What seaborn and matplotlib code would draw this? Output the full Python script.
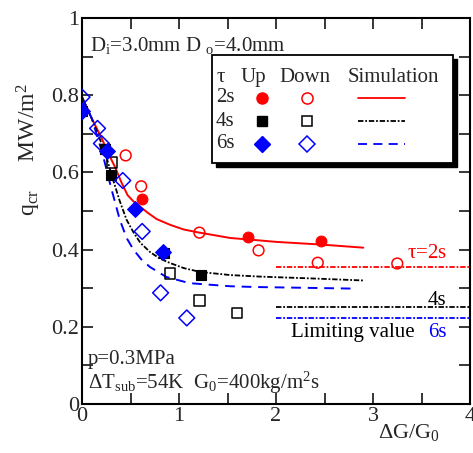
import numpy as np
import pandas as pd
import matplotlib
matplotlib.use("Agg")
import matplotlib.pyplot as plt
from matplotlib.patches import Rectangle
import seaborn as sns

# ---- measured data -------------------------------------------------------
# tau = 2 s
up2_x = [0.62, 1.71, 2.46]
up2_y = [0.530, 0.433, 0.421]
down2_x = [0.45, 0.61, 1.21, 1.82, 2.43, 3.25]
down2_y = [0.644, 0.564, 0.444, 0.398, 0.366, 0.364]
# tau = 4 s
up4_x = [0.00, 0.24, 0.30, 0.85, 1.23]
up4_y = [0.760, 0.660, 0.592, 0.392, 0.335]
down4_x = [0.31, 0.91, 1.21, 1.60]
down4_y = [0.626, 0.338, 0.268, 0.236]
# tau = 6 s
up6_x = [0.00, 0.26, 0.55, 0.83]
up6_y = [0.760, 0.655, 0.504, 0.395]
down6_x = [0.00, 0.16, 0.20, 0.42, 0.62, 0.81, 1.08]
down6_y = [0.795, 0.714, 0.675, 0.579, 0.447, 0.288, 0.223]

# ---- simulation curves ---------------------------------------------------
sim2_x = [0.00, 0.10, 0.20, 0.27, 0.34, 0.41, 0.47, 0.53, 0.58, 0.68, 0.77, 0.91, 1.05,
          1.21, 1.53, 1.73, 2.00, 2.47, 2.90]
sim2_y = [0.795, 0.740, 0.690, 0.650, 0.614, 0.572, 0.541, 0.525, 0.515, 0.495, 0.479, 0.464,
          0.452, 0.444, 0.430, 0.426, 0.420, 0.413, 0.405]
sim4_x = [0.00, 0.10, 0.24, 0.31, 0.39, 0.46, 0.53, 0.60, 0.70, 0.80, 0.91, 1.05, 1.22,
          1.53, 1.84, 2.40, 2.90]
sim4_y = [0.795, 0.740, 0.650, 0.589, 0.525, 0.477, 0.445, 0.418, 0.394, 0.377, 0.365, 0.352,
          0.342, 0.334, 0.330, 0.325, 0.320]
sim6_x = [0.00, 0.10, 0.21, 0.30, 0.39, 0.46, 0.53, 0.61, 0.70, 0.87, 1.11, 1.53, 1.80,
          2.30, 2.79]
sim6_y = [0.795, 0.740, 0.650, 0.560, 0.477, 0.430, 0.400, 0.375, 0.355, 0.329, 0.313, 0.305,
          0.303, 0.301, 0.299]

# ---- limiting values -----------------------------------------------------
lim_x = [2.0, 4.0]
lim2 = 0.356
lim4 = 0.252
lim6 = 0.223

x_ticks = [0, 1, 2, 3, 4]
y_ticks = [0, 0.2, 0.4, 0.6, 0.8, 1.0]
y_tick_labels = ["0", "0.2", "0.4", "0.6", "0.8", "1"]

RED, BLACK, BLUE = "#ff0000", "#000000", "#0000ff"

sns.set_style("ticks")
plt.rcParams["font.family"] = ["Liberation Serif", "DejaVu Serif"]
plt.rcParams["mathtext.fontset"] = "custom"
plt.rcParams["mathtext.rm"] = "Liberation Serif"
plt.rcParams["mathtext.it"] = "Liberation Serif"

fig = plt.figure(figsize=(4.73, 4.53), dpi=100)
ax = fig.add_axes([0.1734, 0.1082, 0.8203, 0.852])

fine_dd = (3, 1, 1, 1)

def curve(x, y, color, **kw):
    df = pd.DataFrame({"x": x, "y": y})
    sns.lineplot(data=df, x="x", y="y", sort=False, estimator=None,
                 color=color, ax=ax, **kw)

curve(sim2_x, sim2_y, RED, lw=1.4)
curve(sim4_x, sim4_y, BLACK, lw=1.3, linestyle=(0, fine_dd))
curve(sim6_x, sim6_y, BLUE, lw=1.4, linestyle=(0, (5, 3.5)))

curve(lim_x, [lim2, lim2], RED, lw=1.3, linestyle=(0, fine_dd))
curve(lim_x, [lim4, lim4], BLACK, lw=1.3, linestyle=(0, fine_dd))
curve(lim_x, [lim6, lim6], BLUE, lw=1.3, linestyle=(0, fine_dd))

def pts(x, y, color, marker, filled, s):
    if filled:
        sns.scatterplot(x=x, y=y, ax=ax, marker=marker, s=s, color=color,
                        edgecolor=color, linewidth=0.8, zorder=3)
    else:
        sns.scatterplot(x=x, y=y, ax=ax, marker=marker, s=s,
                        facecolors="none", edgecolors=color, linewidth=1.1, zorder=3)

pts(down4_x, down4_y, BLACK, "s", False, 55)
pts(up4_x, up4_y, BLACK, "s", True, 50)
pts(down2_x, down2_y, RED, "o", False, 60)
pts(up2_x, up2_y, RED, "o", True, 60)
pts(down6_x, down6_y, BLUE, "D", False, 65)
pts(up6_x, up6_y, BLUE, "D", True, 65)

ax.set_xlim(0, 4)
ax.set_ylim(0, 1)
ax.set_xticks(x_ticks)
ax.set_xticklabels([str(t) for t in x_ticks])
ax.set_yticks(y_ticks)
ax.set_yticklabels(y_tick_labels)
ax.set_xticks(np.arange(0, 4.01, 0.5), minor=True)
ax.set_yticks(np.arange(0, 1.001, 0.1), minor=True)
ax.tick_params(which="both", direction="in", top=True, right=True,
               width=1.1, color="black")
ax.tick_params(which="major", length=8, labelsize=16, pad=2)
ax.tick_params(which="minor", length=8)
for sp in ax.spines.values():
    sp.set_linewidth(1.5)
    sp.set_color("black")
    sp.set_visible(True)

ax.set_xlabel("")
ax.set_ylabel(r"q$_{\rm cr}$     MW/m$^2$", fontsize=17, y=0.66, labelpad=6)
fig.text(0.865, 0.045, r"$\Delta$G/G$_0$", fontsize=16, ha="center", va="center")

fs = 15
ax.text(0.08, 0.93, r"D$_{\rm i}$=3.0mm D $_{\rm o}$=4.0mm", fontsize=fs, va="center")
ax.text(0.06, 0.114, "p=0.3MPa", fontsize=fs, va="center")
ax.text(0.06, 0.054, r"$\Delta$T$_{\rm sub}$=54K  G$_0$=400kg/m$^2$s", fontsize=fs, va="center")
ax.text(3.76, 0.391, r"$\tau$=2s", fontsize=fs, color=RED, ha="right", va="center")
ax.text(3.76, 0.269, "4s", fontsize=fs, color=BLACK, ha="right", va="center")
ax.text(3.43, 0.184, "Limiting value", fontsize=fs, color=BLACK, ha="right", va="center")
ax.text(3.76, 0.184, "6s", fontsize=fs, color=BLUE, ha="right", va="center")

# table-style key
T = ax.transAxes
L, R, B, Tp = 0.335, 0.956, 0.624, 0.904
ax.add_patch(Rectangle((L + 0.011, B - 0.011), R - L, Tp - B, transform=T,
                       facecolor="black", edgecolor="black", zorder=5))
ax.add_patch(Rectangle((L, B), R - L, Tp - B, transform=T,
                       facecolor="white", edgecolor="black", lw=1.3, zorder=6))
hy = 0.845
ax.text(0.345, hy, r"$\tau$", transform=T, fontsize=fs, va="center", zorder=7)
ax.text(0.441, hy, "Up", transform=T, fontsize=fs, va="center", ha="center", zorder=7)
ax.text(0.575, hy, "Down", transform=T, fontsize=fs, va="center", ha="center", zorder=7)
ax.text(0.802, hy, "Simulation", transform=T, fontsize=fs, va="center", ha="center", zorder=7)
rows = [("2s", RED, "o", 8, "-", 0.793),
        ("4s", BLACK, "s", 7, (0, fine_dd), 0.733),
        ("6s", BLUE, "D", 8.5, (0, (5, 3.5)), 0.674)]
for lab, c, m, ms, ls, yy in rows:
    ax.text(0.345, yy, lab, transform=T, fontsize=fs, va="center", zorder=7)
    ax.plot([0.464], [yy], transform=T, marker=m, ms=ms, color=c, mec=c, ls="none", zorder=7)
    ax.plot([0.580], [yy], transform=T, marker=m, ms=ms, mfc="white", mec=c,
            mew=1.1, ls="none", zorder=7)
    ax.plot([0.711, 0.832], [yy, yy], transform=T, color=c, lw=1.3, ls=ls, zorder=7)

fig.savefig("out.png", dpi=100)
